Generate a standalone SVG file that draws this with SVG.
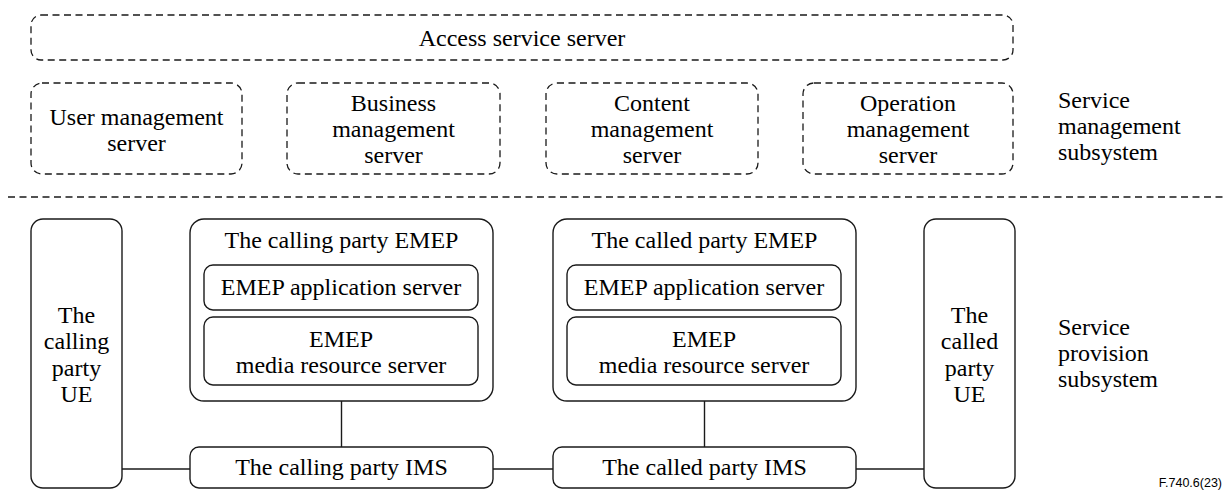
<svg xmlns="http://www.w3.org/2000/svg" width="1228" height="490" viewBox="0 0 1228 490">
  <style>
    .dash { fill: none; stroke: #1a1a1a; stroke-width: 1.3; stroke-dasharray: 7 4.5; }
    .box { fill: none; stroke: #1a1a1a; stroke-width: 1.4; }
    .conn { fill: none; stroke: #1a1a1a; stroke-width: 1.4; }
    .t { text-anchor: middle; }
    .l { text-anchor: start; }
  </style>
  <rect width="1228" height="490" fill="#fff"/>

  <g font-family="Liberation Serif, Times New Roman, serif" font-size="24" fill="#000">
  <!-- Service management subsystem -->
  <g id="access-service-server">
    <rect class="dash" x="31" y="15" width="982" height="45" rx="10"/>
    <text class="t" x="522" y="46">Access service server</text>
  </g>
  <g id="user-management-server">
    <rect class="dash" x="31" y="83" width="211" height="91" rx="11"/>
    <text class="t" x="136.5" y="125">User management</text>
    <text class="t" x="136.5" y="151">server</text>
  </g>
  <g id="business-management-server">
    <rect class="dash" x="287" y="83" width="213" height="91" rx="11"/>
    <text class="t" x="393.5" y="111">Business</text>
    <text class="t" x="393.5" y="137">management</text>
    <text class="t" x="393.5" y="163">server</text>
  </g>
  <g id="content-management-server">
    <rect class="dash" x="546" y="83" width="212" height="91" rx="11"/>
    <text class="t" x="652" y="111">Content</text>
    <text class="t" x="652" y="137">management</text>
    <text class="t" x="652" y="163">server</text>
  </g>
  <g id="operation-management-server">
    <rect class="dash" x="803" y="83" width="210" height="91" rx="11"/>
    <text class="t" x="908" y="111">Operation</text>
    <text class="t" x="908" y="137">management</text>
    <text class="t" x="908" y="163">server</text>
  </g>
  <g id="label-service-management">
    <text class="l" x="1058" y="108">Service</text>
    <text class="l" x="1058" y="134">management</text>
    <text class="l" x="1058" y="160">subsystem</text>
  </g>

  <!-- subsystem boundary -->
  <line class="dash" x1="8" y1="197" x2="1224" y2="197"/>

  <!-- Service provision subsystem -->
  <g id="calling-ue">
    <rect class="box" x="31" y="219" width="91" height="269" rx="12"/>
    <text class="t" x="76.5" y="323">The</text>
    <text class="t" x="76.5" y="349">calling</text>
    <text class="t" x="76.5" y="376">party</text>
    <text class="t" x="76.5" y="402">UE</text>
  </g>
  <g id="calling-emep">
    <rect class="box" x="190" y="219" width="303" height="182" rx="14"/>
    <text class="t" x="341.5" y="248">The calling party EMEP</text>
    <g id="calling-emep-app">
      <rect class="box" x="204" y="265" width="274" height="45" rx="9"/>
      <text class="t" x="341" y="295">EMEP application server</text>
    </g>
    <g id="calling-emep-media">
      <rect class="box" x="204" y="317" width="274" height="68" rx="9"/>
      <text class="t" x="341" y="347">EMEP</text>
      <text class="t" x="341" y="373">media resource server</text>
    </g>
  </g>
  <g id="called-emep">
    <rect class="box" x="553" y="219" width="303" height="182" rx="14"/>
    <text class="t" x="704.5" y="248">The called party EMEP</text>
    <g id="called-emep-app">
      <rect class="box" x="567" y="265" width="274" height="45" rx="9"/>
      <text class="t" x="704" y="295">EMEP application server</text>
    </g>
    <g id="called-emep-media">
      <rect class="box" x="567" y="317" width="274" height="68" rx="9"/>
      <text class="t" x="704" y="347">EMEP</text>
      <text class="t" x="704" y="373">media resource server</text>
    </g>
  </g>
  <g id="called-ue">
    <rect class="box" x="924" y="219" width="91" height="269" rx="12"/>
    <text class="t" x="969.5" y="323">The</text>
    <text class="t" x="969.5" y="349">called</text>
    <text class="t" x="969.5" y="376">party</text>
    <text class="t" x="969.5" y="402">UE</text>
  </g>
  <g id="calling-ims">
    <rect class="box" x="190" y="447" width="303" height="41" rx="9"/>
    <text class="t" x="341.5" y="475">The calling party IMS</text>
  </g>
  <g id="called-ims">
    <rect class="box" x="553" y="447" width="303" height="41" rx="9"/>
    <text class="t" x="704.5" y="475">The called party IMS</text>
  </g>
  <g id="label-service-provision">
    <text class="l" x="1058" y="335">Service</text>
    <text class="l" x="1058" y="361">provision</text>
    <text class="l" x="1058" y="387">subsystem</text>
  </g>

  <g id="connectors">
    <line class="conn" x1="341.5" y1="401" x2="341.5" y2="447"/>
    <line class="conn" x1="704.5" y1="401" x2="704.5" y2="447"/>
    <line class="conn" x1="122" y1="469" x2="190" y2="469"/>
    <line class="conn" x1="493" y1="469" x2="553" y2="469"/>
    <line class="conn" x1="856" y1="469" x2="924" y2="469"/>
  </g>
  </g>

  <text x="1222" y="487" font-family="Liberation Sans, Arial, sans-serif" font-size="12.5" text-anchor="end" fill="#000">F.740.6(23)</text>
</svg>
